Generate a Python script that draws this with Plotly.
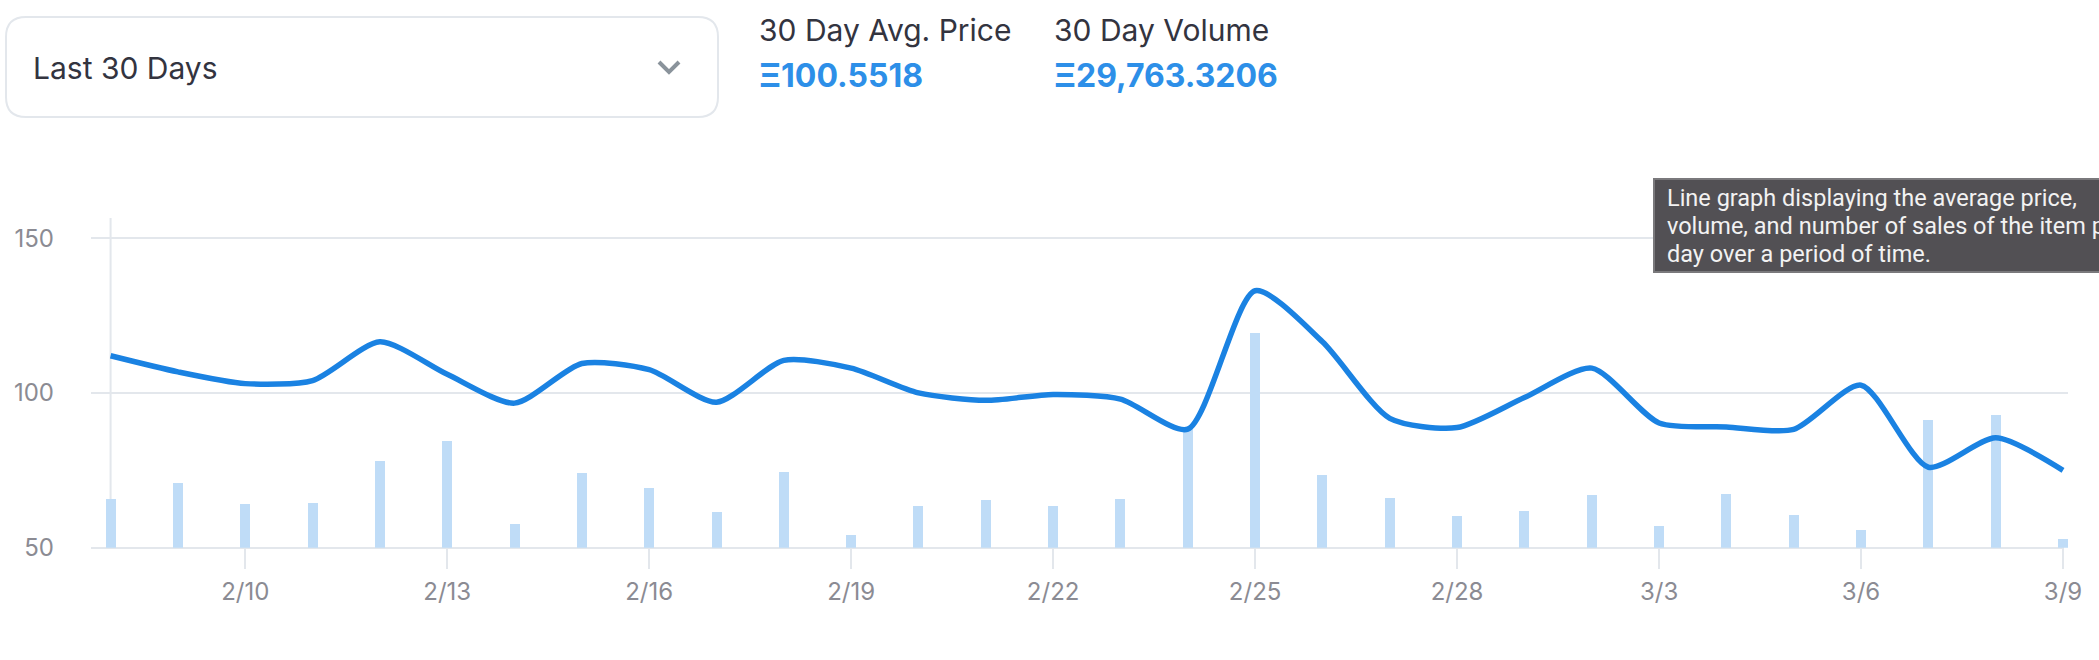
import plotly.graph_objects as go

WIDTH, HEIGHT = 2099, 660

days = ["2/8", "2/9", "2/10", "2/11", "2/12", "2/13", "2/14", "2/15", "2/16", "2/17",
        "2/18", "2/19", "2/20", "2/21", "2/22", "2/23", "2/24", "2/25", "2/26", "2/27",
        "2/28", "3/1", "3/2", "3/3", "3/4", "3/5", "3/6", "3/7", "3/8", "3/9"]
avg_price = [112, 106.8, 103, 104, 116.5, 106, 96.7, 109.5, 107.5, 97,
             110.5, 108, 100, 97.6, 99.5, 98, 88.3, 133, 116.5, 91.8,
             88.8, 98.5, 108, 90.3, 89, 88.2, 102.5, 76, 85.5, 75]
# bar tops, as they sit on the price axis
volume = [65.8, 71, 64, 64.5, 78, 84.4, 57.6, 74, 69.3, 61.5,
          74.5, 54, 63.6, 65.4, 63.6, 65.8, 88.3, 119.5, 73.6, 66.2,
          60.2, 61.9, 67, 57, 67.5, 60.6, 55.8, 91.3, 93, 52.8]
tick_days = ["2/10", "2/13", "2/16", "2/19", "2/22", "2/25", "2/28", "3/3", "3/6", "3/9"]
price_ticks = [50, 100, 150]

GRID = "#e3e7ec"
TICK_TEXT = "#8b8b93"
DARK = "#33343f"
BLUE = "#2d8fe8"
FONT = "Inter"


def px(x):
    return x / WIDTH


def py(y):
    return 1 - y / HEIGHT


def label(x, y, text, size, color, font=FONT, anchor="left"):
    return dict(xref="paper", yref="paper", x=px(x), y=py(y), text=text, showarrow=False,
                xanchor=anchor, yanchor="middle", borderpad=0, borderwidth=0,
                font=dict(family=font, size=size, color=color))


fig = go.Figure()

fig.add_trace(go.Bar(
    x=days,
    y=volume,
    width=0.1486,
    marker=dict(color="#bfdcf7", line=dict(width=0)),
    showlegend=False,
))
fig.add_trace(go.Scatter(
    x=days,
    y=avg_price,
    mode="lines",
    line=dict(color="#1a82e2", width=5.5, shape="spline", smoothing=0.7),
    showlegend=False,
))

shapes = [
    # vertical axis line on the first day
    dict(type="line", xref="x", yref="paper", x0=0, x1=0, y0=py(218), y1=py(548),
         line=dict(color=GRID, width=2), layer="below"),
    # the plot runs a few px past the last day so its bar is whole, grid stops at the day
    dict(type="rect", xref="paper", yref="paper", x0=px(2064), x1=px(2070), y0=py(218), y1=py(551),
         line=dict(width=0), fillcolor="white", layer="below"),
    # bottom axis line
    dict(type="line", xref="paper", yref="paper", x0=px(91), x1=px(2064), y0=py(548), y1=py(548),
         line=dict(color=GRID, width=2), layer="below"),
    # dropdown box
    dict(type="path", xref="paper", yref="paper",
         path="M {} {} L {} {} Q {} {} {} {} L {} {} Q {} {} {} {} L {} {} Q {} {} {} {} L {} {} Q {} {} {} {} Z".format(
             px(26), py(17), px(698), py(17), px(718), py(17), px(718), py(37),
             px(718), py(97), px(718), py(117), px(698), py(117),
             px(26), py(117), px(6), py(117), px(6), py(97),
             px(6), py(37), px(6), py(17), px(26), py(17)),
         line=dict(color=GRID, width=2), fillcolor="white"),
    # chevron
    dict(type="path", xref="paper", yref="paper",
         path="M {} {} L {} {} L {} {}".format(px(659), py(62), px(669), py(72), px(679), py(62)),
         line=dict(color="#8a939b", width=4)),
    # tooltip box
    dict(type="rect", xref="paper", yref="paper", x0=px(1654), x1=px(2110), y0=py(179), y1=py(272),
         line=dict(color="#7a797c", width=2), fillcolor="#525054"),
]

annotations = [
    label(33, 68, "Last 30 Days", 30, DARK),
    label(759, 30, "30 Day Avg. Price", 30, DARK),
    label(1054, 30, "30 Day Volume", 30, DARK),
    label(759, 76, "<b>Ξ100.5518</b>", 32, BLUE),
    label(1054, 76, "<b>Ξ29,763.3206</b>", 32, BLUE),
    label(1667, 198, "Line graph displaying the average price,", 23.5, "#f2f2f2", "Roboto"),
    label(1667, 226, "volume, and number of sales of the item per", 23.5, "#f2f2f2", "Roboto"),
    label(1667, 254, "day over a period of time.", 23.5, "#f2f2f2", "Roboto"),
]

fig.update_layout(
    width=WIDTH,
    height=HEIGHT,
    margin=dict(l=0, r=0, t=0, b=0),
    paper_bgcolor="white",
    plot_bgcolor="white",
    bargap=0,
    shapes=shapes,
    annotations=annotations,
    xaxis=dict(
        domain=[px(91), px(2068)],
        type="category",
        categoryorder="array",
        categoryarray=days,
        range=[-0.291, 29.074],
        tickmode="array",
        tickvals=tick_days,
        ticktext=tick_days,
        ticks="outside",
        ticklen=20,
        tickwidth=2,
        tickcolor=GRID,
        ticklabelstandoff=2,
        tickfont=dict(family=FONT, size=24, color=TICK_TEXT),
        showgrid=False,
        showline=False,
        zeroline=False,
        automargin=False,
    ),
    yaxis=dict(
        domain=[py(547.7), py(218)],
        range=[50, 156.5],
        tickmode="array",
        tickvals=price_ticks,
        ticks="",
        ticklabelstandoff=36,
        tickfont=dict(family=FONT, size=24, color=TICK_TEXT),
        showgrid=True,
        gridcolor=GRID,
        gridwidth=2,
        showline=False,
        zeroline=False,
        automargin=False,
    ),
)

fig.write_html("out.html", config=dict(displayModeBar=False),
               post_script="document.body.style.margin = '0';")
